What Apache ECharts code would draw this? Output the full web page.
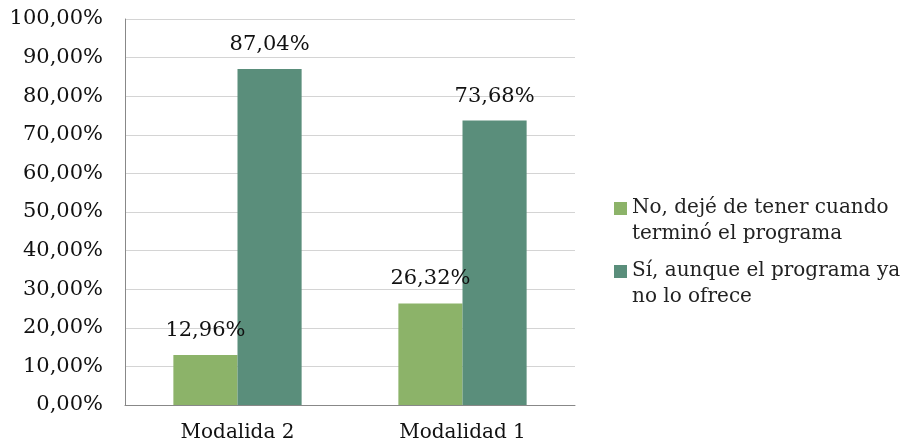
<!DOCTYPE html>
<html>
<head>
<meta charset="utf-8">
<script src="https://cdn.jsdelivr.net/npm/echarts@6/dist/echarts.min.js"></script>
<style>
  html, body { margin: 0; padding: 0; background: #fff; }
  #chart { width: 911px; height: 447px; }
</style>
</head>
<body>
<div id="chart"></div>
<script>
// data
const categories = ["Modalida 2", "Modalidad 1"];
const seriesNames = [
  "No, dejé de tener cuando terminó el programa",
  "Sí, aunque el programa ya no lo ofrece",
];
const legendLines = [
  "No, dejé de tener cuando\nterminó el programa",
  "Sí, aunque el programa ya\nno lo ofrece",
];
const noValues = [12.96, 26.32];
const siValues = [87.04, 73.68];
const yTicks = [0, 10, 20, 30, 40, 50, 60, 70, 80, 90, 100];

const font = "DejaVu Serif";
const fmt = (v) => v.toFixed(2).replace(".", ",") + "%";

// square at the top of a taller box, so the icon lines up with the first text line
const legendIcon = "path://M0,0L13,0L13,13L0,13ZM0,38L0.01,38";

const chart = echarts.init(document.getElementById("chart"));

const labelStyle = {
  show: true,
  position: "top",
  distance: 14,
  fontFamily: font,
  fontSize: 21,
  color: "#111",
  formatter: (p) => fmt(p.value),
};

chart.setOption({
  animation: false,
  grid: { left: 125, right: 336, top: 19, bottom: 42 },
  legend: {
    orient: "vertical",
    left: 609,
    top: 190,
    itemWidth: 13,
    itemHeight: 38,
    itemGap: 11,
    icon: legendIcon,
    data: seriesNames,
    formatter: (name) => legendLines[seriesNames.indexOf(name)],
    textStyle: {
      fontFamily: font,
      fontSize: 20,
      color: "#222",
      lineHeight: 26,
    },
  },
  xAxis: {
    type: "category",
    data: categories,
    axisLine: { lineStyle: { color: "#888", width: 1 } },
    axisTick: { show: false },
    axisLabel: { fontFamily: font, fontSize: 20, color: "#111", margin: 18 },
  },
  yAxis: {
    type: "value",
    min: yTicks[0],
    max: yTicks[yTicks.length - 1],
    interval: 10,
    axisLine: { show: true, lineStyle: { color: "#888", width: 1 } },
    axisTick: { show: false },
    splitLine: { lineStyle: { color: "#d4d4d4", width: 1 } },
    axisLabel: {
      fontFamily: font,
      fontSize: 21,
      color: "#111",
      margin: 22,
      formatter: fmt,
    },
  },
  series: [
    {
      name: seriesNames[0],
      type: "bar",
      data: noValues,
      barGap: "0%",
      barCategoryGap: "43%",
      itemStyle: { color: "#8cb369" },
      label: labelStyle,
    },
    {
      name: seriesNames[1],
      type: "bar",
      data: siValues,
      barGap: "0%",
      barCategoryGap: "43%",
      itemStyle: { color: "#5a8e7b" },
      label: labelStyle,
    },
  ],
});
</script>
</body>
</html>
